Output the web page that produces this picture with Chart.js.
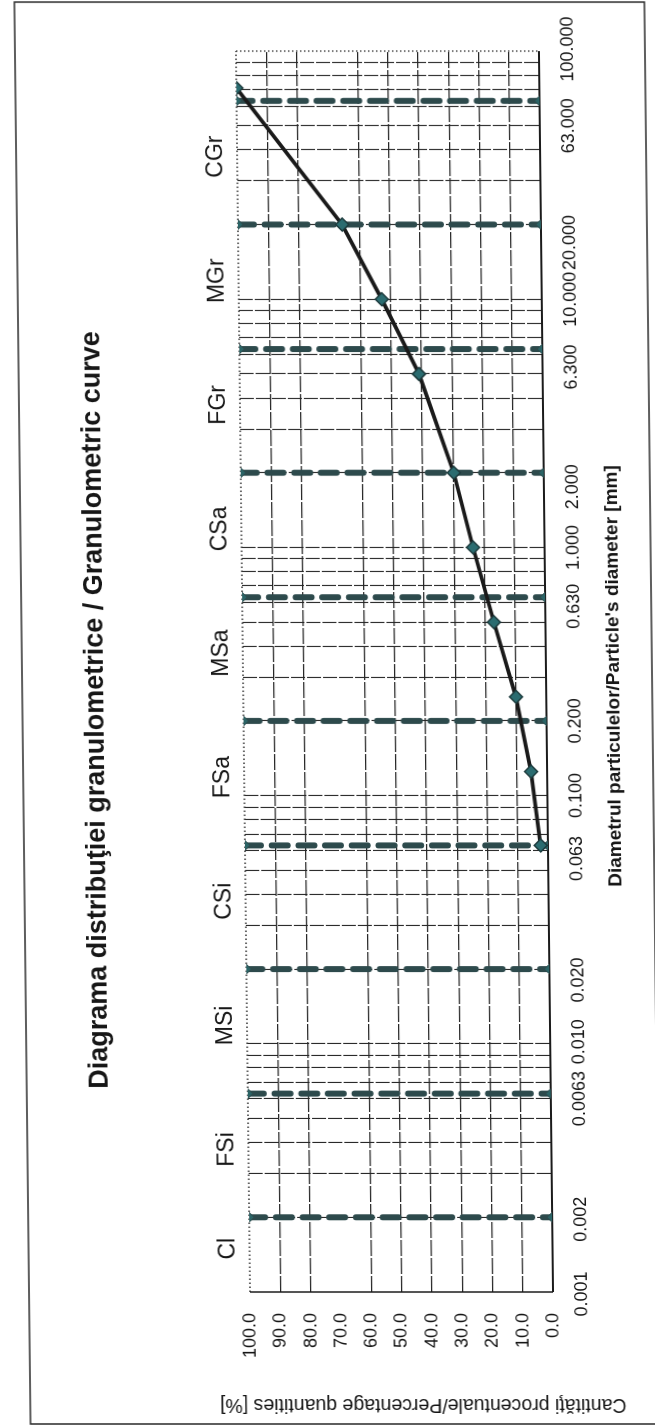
<!DOCTYPE html>
<html>
<head>
<meta charset="utf-8">
<script src="https://cdn.jsdelivr.net/npm/chart.js@4/dist/chart.umd.min.js"></script>
<style>
  html, body { margin: 0; padding: 0; background: #ffffff; overflow: hidden; }
  #sheet {
    position: absolute; left: 0; top: 0; width: 655px; height: 1426px;
    transform-origin: 0 673px; transform: skewX(0.65deg);
  }
  #landscape {
    position: absolute; left: 0; top: 0; width: 1426px; height: 655px;
    transform-origin: 0 0; transform: translate(0px, 1426px) rotate(-90deg);
  }
</style>
</head>
<body>
<div id="sheet">
  <div id="landscape">
    <canvas id="chart" width="1426" height="655"></canvas>
  </div>
</div>
<script>
// Sieve analysis: particle diameter [mm] vs. cumulative passing [%]
const diameters = [0.063, 0.125, 0.25, 0.5, 1, 2, 5, 10, 20, 71];
const passing   = [2.4, 5.3, 10.0, 17.0, 23.6, 29.7, 40.8, 52.8, 65.6, 100];

// Soil fraction limits [mm] and fraction names
const classLimits = [0.002, 0.0063, 0.02, 0.063, 0.2, 0.63, 2, 6.3, 20, 63];
const classNames  = ['Cl', 'FSi', 'MSi', 'CSi', 'FSa', 'MSa', 'CSa', 'FGr', 'MGr', 'CGr'];

// Diameter axis ticks and labels
const diameterTicks  = [0.001, 0.002, 0.0063, 0.01, 0.02, 0.063, 0.1, 0.2, 0.63, 1, 2, 6.3, 10, 20, 63, 100];
const diameterLabels = ['0.001', '0.002', '0.0063', '0.010', '0.020', '0.063', '0.100', '0.200', '0.630',
                        '1.000', '2.000', '6.300', '10.000', '20.000', '63.000', '100.000'];

// Percentage axis ticks and labels
const percentTicks  = [0, 10, 20, 30, 40, 50, 60, 70, 80, 90, 100];
const percentLabels = ['0.0', '10.0', '20.0', '30.0', '40.0', '50.0', '60.0', '70.0', '80.0', '90.0', '100.0'];

const chartTitle = 'Diagrama distribuţiei granulometrice / Granulometric curve';
const xTitle = 'Diametrul particulelor/Particle\'s diameter [mm]';
const yTitle = 'Cantităţi procentuale/Percentage quantities [%]';

const FONT = '"Liberation Sans", Arial, Helvetica, sans-serif';
const INK = '#161616';
const GRID = '#262626';
const LIMIT_COLOR = '#2d4a4c';
const MARK_FILL = '#2b6c70';

// Horizontal nudges (px) of the diameter labels: the fraction-limit labels sit
// slightly before their tick, as placed on the sheet.
const diameterLabelNudge = [-2, -2, -5, 2, -11, -13, 0, 0, -9, 0, -14, -18, 0, -18, -25, 2];

// Log-scale minor grid: 1..9 x 10^n inside the axis range
const minorGrid = [];
for (let e = -3; e <= 1; e++) {
  for (let m = 1; m <= 9; m++) minorGrid.push(+(m * Math.pow(10, e)).toPrecision(3));
}
minorGrid.push(100);

const limitDatasets = classLimits.map(b => ({
  data: [{ x: b, y: 100 }, { x: b, y: 0 }],
  showLine: true,
  borderColor: LIMIT_COLOR,
  borderWidth: 6,
  borderDash: [16, 10.7],
  borderCapStyle: 'round',
  pointStyle: 'rectRot',
  pointRadius: 5,
  pointBackgroundColor: '#2b6466',
  pointBorderColor: LIMIT_COLOR,
  pointBorderWidth: 1,
  order: 2
}));

const curveDataset = {
  data: diameters.map((d, i) => ({ x: d, y: passing[i] })),
  showLine: true,
  borderColor: '#1a1a1a',
  borderWidth: 3.8,
  tension: 0,
  pointStyle: 'rectRot',
  pointRadius: 6.5,
  pointBackgroundColor: MARK_FILL,
  pointBorderColor: '#1d3b3d',
  pointBorderWidth: 1.5,
  order: 1
};

// Texts, plot frame and sheet border
const decorations = {
  id: 'decorations',
  beforeDatasetsDraw(chart) {
    const { ctx, chartArea: a } = chart;
    ctx.save();
    // plot frame: dotted on the 100 % and 100 mm sides, solid on the others
    ctx.strokeStyle = '#333';
    ctx.lineWidth = 1.3;
    ctx.setLineDash([1.5, 2.5]);
    ctx.beginPath();
    ctx.moveTo(a.left, a.top); ctx.lineTo(a.right, a.top);
    ctx.moveTo(a.right, a.top); ctx.lineTo(a.right, a.bottom);
    ctx.stroke();
    ctx.setLineDash([]);
    ctx.strokeStyle = '#1b1b1b';
    ctx.lineWidth = 2;
    ctx.beginPath();
    ctx.moveTo(a.left, a.bottom); ctx.lineTo(a.right, a.bottom);
    ctx.stroke();
    ctx.lineWidth = 1.5;
    ctx.beginPath();
    ctx.moveTo(a.left, a.top); ctx.lineTo(a.left, a.bottom);
    ctx.stroke();
    ctx.restore();
  },
  afterDraw(chart) {
    const { ctx, chartArea: a, scales } = chart;
    const xs = scales.x;
    ctx.save();
    // sheet border
    ctx.strokeStyle = '#2a2a2a';
    ctx.lineWidth = 1.5;
    ctx.strokeRect(2, 22, 1422, 630);

    ctx.fillStyle = INK;
    ctx.textAlign = 'center';
    ctx.textBaseline = 'alphabetic';

    // main title
    ctx.font = 'bold 27px ' + FONT;
    ctx.fillText(chartTitle, 716, 103);

    // diameter labels under the plot
    ctx.font = '18px ' + FONT;
    diameterTicks.forEach((v, i) => {
      ctx.fillText(diameterLabels[i], xs.getPixelForValue(v) + diameterLabelNudge[i], a.bottom + 34);
    });

    // fraction names, centred in each fraction band
    ctx.font = '23px ' + FONT;
    const bounds = [xs.min].concat(classLimits, [xs.max]);
    classNames.forEach((name, i) => {
      const mid = Math.sqrt(bounds[i] * bounds[i + 1]);
      ctx.fillText(name, xs.getPixelForValue(mid) + 6, 228);
    });

    // diameter axis title
    ctx.font = 'bold 19px ' + FONT;
    ctx.fillText(xTitle, 750, 619);

    // percentage axis title
    ctx.font = '19.5px ' + FONT;
    ctx.translate(27, 415);
    ctx.rotate(-Math.PI / 2);
    ctx.fillText(yTitle, 0, 0);
    ctx.restore();
  }
};

new Chart(document.getElementById('chart'), {
  type: 'scatter',
  data: { datasets: [curveDataset].concat(limitDatasets) },
  options: {
    responsive: false,
    animation: false,
    devicePixelRatio: 1,
    layout: { padding: { top: 243, right: 51, bottom: 0, left: 0 } },
    plugins: { legend: { display: false }, tooltip: { enabled: false }, title: { display: false } },
    scales: {
      x: {
        type: 'logarithmic',
        position: 'bottom',
        min: 0.001,
        max: 100,
        afterBuildTicks: s => { s.ticks = diameterTicks.map(v => ({ value: v })); },
        afterFit: s => { s.height = 109; },
        grid: { display: false },
        border: { display: false },
        ticks: { display: false, autoSkip: false, maxRotation: 0, minRotation: 0 }
      },
      xMinor: {
        type: 'logarithmic',
        position: 'top',
        min: 0.001,
        max: 100,
        afterBuildTicks: s => { s.ticks = minorGrid.map(v => ({ value: v })); },
        afterFit: s => { s.height = 0; },
        ticks: { display: false },
        border: { display: false, dash: [14, 2] },
        grid: {
          drawTicks: false,
          lineWidth: 1.1,
          color: c => (c.tick && (c.tick.value <= 0.001 || c.tick.value >= 100)) ? 'rgba(0,0,0,0)' : GRID
        }
      },
      y: {
        type: 'linear',
        min: 0,
        max: 100,
        afterBuildTicks: s => { s.ticks = percentTicks.map(v => ({ value: v })); },
        afterFit: s => { s.width = 134; },
        border: { display: false, dash: [16, 2] },
        grid: {
          drawTicks: false,
          lineWidth: 1.2,
          color: c => (c.tick && [0, 70, 100].includes(c.tick.value)) ? 'rgba(0,0,0,0)' : GRID
        },
        ticks: {
          padding: 21,
          color: INK,
          font: { family: FONT, size: 18 },
          callback: (v, i) => percentLabels[i]
        }
      }
    }
  },
  plugins: [decorations]
});
</script>
</body>
</html>
